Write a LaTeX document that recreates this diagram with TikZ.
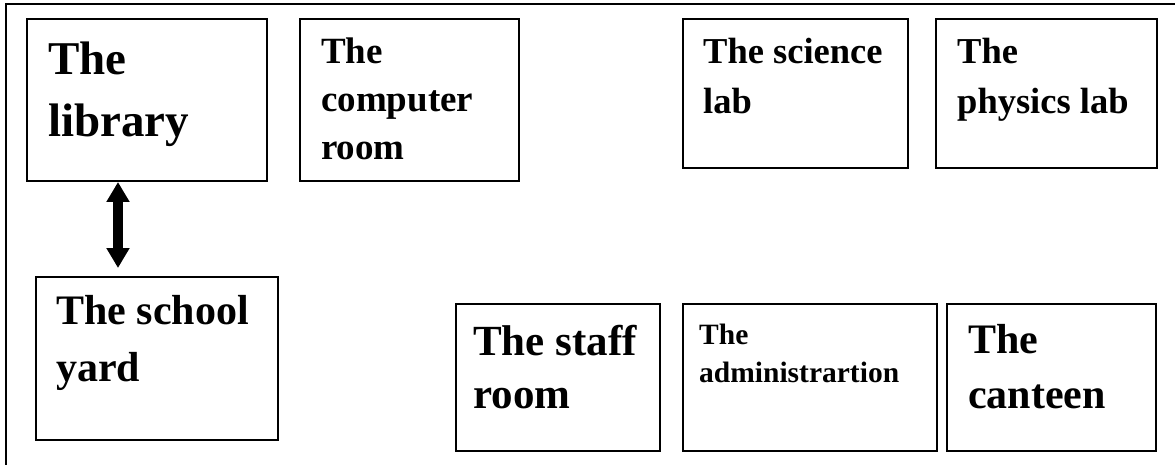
\documentclass[tikz,border=0pt]{standalone}
\usepackage{fontspec}
\setmainfont{Liberation Serif}
\usetikzlibrary{arrows.meta,calc}
\tikzset{
  room/.style={draw, line width=2pt, anchor=north west, inner sep=0pt},
  roomname/.style={anchor=north west, inner sep=0pt, align=left},
  link/.style={line width=10pt, {Triangle[width=22pt,length=20pt]}-{Triangle[width=22pt,length=20pt]}}
}
\begin{document}
\begin{tikzpicture}[x=1pt,y=-1pt]
\useasboundingbox (0,0) rectangle (1175,465);
\draw[line width=2pt] (6,467) -- (6,4) -- (1177,4);
\node[room, minimum width=240pt, minimum height=162pt] (library) at (26,18) {};
\node[room, minimum width=219pt, minimum height=162pt] (computer) at (299,18) {};
\node[room, minimum width=225pt, minimum height=149pt] (science) at (682,18) {};
\node[room, minimum width=221pt, minimum height=149pt] (physics) at (935,18) {};
\node[room, minimum width=242pt, minimum height=163pt] (yard) at (35,276) {};
\node[room, minimum width=204pt, minimum height=147pt] (staff) at (455,303) {};
\node[room, minimum width=254pt, minimum height=147pt] (admin) at (682,303) {};
\node[room, minimum width=209pt, minimum height=147pt] (canteen) at (946,303) {};
\node[roomname, font={\fontsize{47}{62}\selectfont\bfseries}] (librarytxt) at ([shift={(22,24)}]library.north west) {The\\library};
\node[roomname, font={\fontsize{37}{48}\selectfont\bfseries}] (computertxt) at ([shift={(22,19.5)}]computer.north west) {The\\computer\\room};
\node[roomname, font={\fontsize{36.5}{50}\selectfont\bfseries}] (sciencetxt) at ([shift={(21,20)}]science.north west) {The science\\lab};
\node[roomname, font={\fontsize{36.5}{50}\selectfont\bfseries}] (physicstxt) at ([shift={(22,20)}]physics.north west) {The\\physics lab};
\node[roomname, font={\fontsize{42}{57}\selectfont\bfseries}] (yardtxt) at ([shift={(21,19)}]yard.north west) {The school\\yard};
\node[roomname, font={\fontsize{43}{53}\selectfont\bfseries}] (stafftxt) at ([shift={(18,22)}]staff.north west) {The staff\\room};
\node[roomname, font={\fontsize{29.5}{38}\selectfont\bfseries}] (admintxt) at ([shift={(17,21)}]admin.north west) {The\\administrartion};
\node[roomname, font={\fontsize{42}{55}\selectfont\bfseries}] (canteentxt) at ([shift={(22,21)}]canteen.north west) {The\\canteen};
\coordinate (up) at ($(library.south west)+(92,0)$);
\coordinate (down) at (up |- yard.north);
\draw[link, shorten >=8pt] (up) -- (down);
\end{tikzpicture}
\end{document}
